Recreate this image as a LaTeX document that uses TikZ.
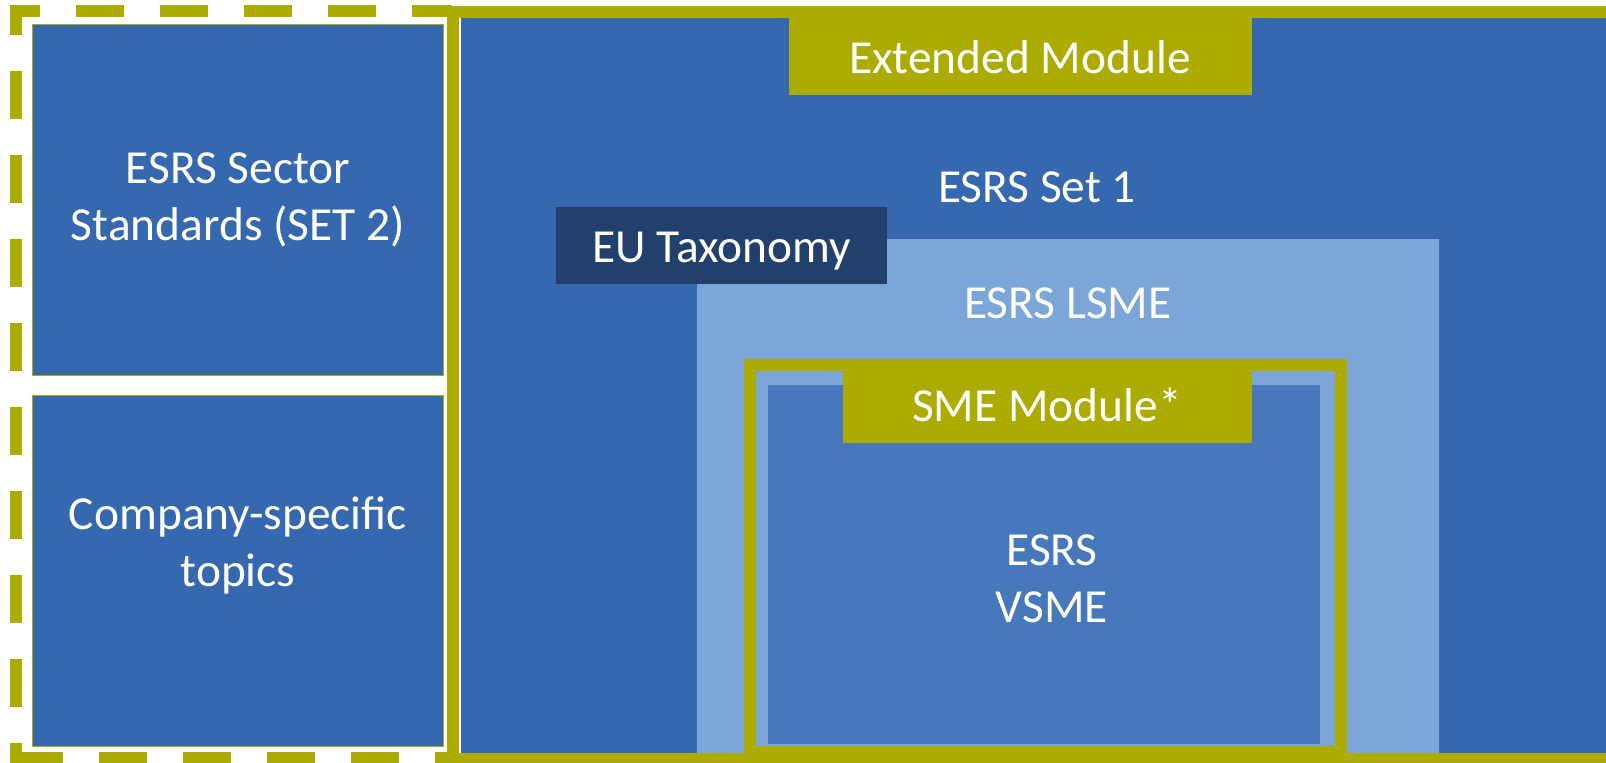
\documentclass[tikz,border=0pt]{standalone}
\usepackage{fontspec}
\setmainfont{Carlito}
\usetikzlibrary{positioning}

\definecolor{modolive}{RGB}{172,172,0}
\definecolor{setblue}{RGB}{53,104,174}
\definecolor{lsmeblue}{RGB}{124,165,216}
\definecolor{vsmeblue}{RGB}{70,120,187}
\definecolor{taxblue}{RGB}{33,64,110}

\begin{document}
\begin{tikzpicture}[x=0.02cm, y=-0.02cm,
    lbl/.style={text=white, align=center, inner sep=0pt,
      font=\fontsize{27}{32.5}\selectfont},
    frame/.style={draw=modolive, line width=0.24cm},
    dashframe/.style={frame, dash pattern=on 0.96cm off 0.72cm},
    sidebox/.style={fill=setblue, draw=modolive, line width=0.02cm}]
  \useasboundingbox (0,0) rectangle (1606,762);

  % Dashed frame round the optional topics
  \draw[dashframe, dash phase=0.54cm] (16,764) |- (452,11);
  \draw[dashframe, dash phase=0.02cm] (16,758) -- (452,758);
  \filldraw[sidebox] (32,24) rectangle (443,375);
  \filldraw[sidebox] (32,395) rectangle (443,746);

  % Set 1 and the nested modules
  \fill[setblue] (461,18) rectangle (1606,753);
  \fill[lsmeblue] (697,239) rectangle (1439,753);
  \draw[frame, fill=lsmeblue] (750,365) rectangle (1341,752);
  \fill[vsmeblue] (768,385) rectangle (1320,744);
  \fill[modolive] (843,359) rectangle (1252,443);
  \fill[modolive] (789,18) rectangle (1252,95);
  \fill[taxblue] (556,207) rectangle (887,284);
  \draw[frame] (452.5,12) rectangle (1620,759);

  % Labels
  \node[lbl] (sector) at (238,200) {ESRS Sector\\Standards (SET 2)};
  \node[lbl] (company) at (238,545) {Company-specific\\topics};
  \node[lbl] (extended) at (1020,57) {Extended Module};
  \node[lbl] (set1) at (1037,187) {ESRS Set 1};
  \node[lbl] (taxonomy) at (722,251) {EU Taxonomy};
  \node[lbl] (lsme) at (1068,303) {ESRS LSME};
  \node[lbl] (smemod) at (1047,405) {SME Module*};
  \node[lbl] (vsme) at (1052,579) {ESRS\\VSME};
\end{tikzpicture}
\end{document}
